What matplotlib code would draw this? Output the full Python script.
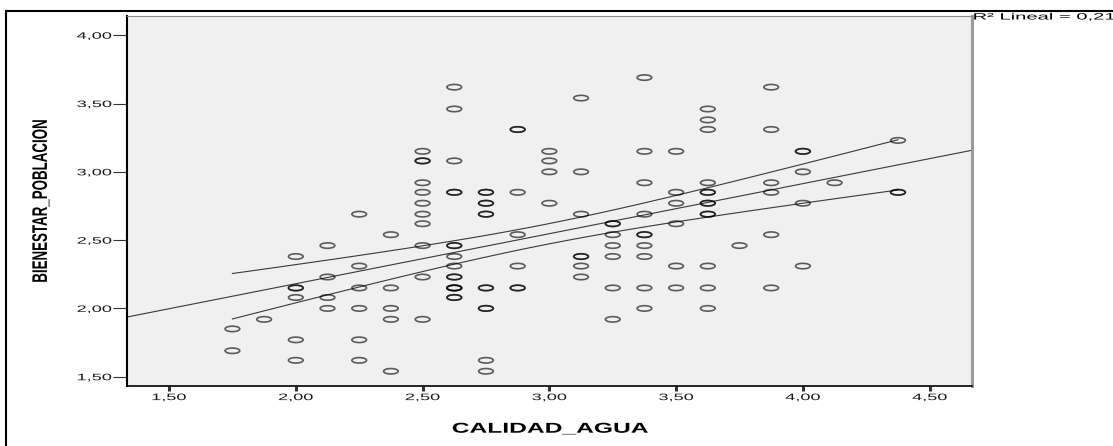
import numpy as np
import matplotlib
matplotlib.use("Agg")
import matplotlib.pyplot as plt
from matplotlib import patheffects
from matplotlib.path import Path
from matplotlib.transforms import Affine2D
from matplotlib.patches import Rectangle

# niveles de CALIDAD_AGUA y puntajes de BIENESTAR_POBLACION observados en cada nivel
calidad_agua = [1.75, 1.875, 2.0, 2.125, 2.25, 2.375, 2.5, 2.625, 2.75, 2.875, 3.0,
                3.125, 3.25, 3.375, 3.5, 3.625, 3.75, 3.875, 4.0, 4.125, 4.375]
bienestar_poblacion = [
    [1.85, 1.69],
    [1.92],
    [2.38, 2.15, 2.15, 2.08, 1.77, 1.62],
    [2.46, 2.23, 2.08, 2.00],
    [2.69, 2.31, 2.15, 2.00, 1.77, 1.62],
    [2.54, 2.15, 2.00, 1.92, 1.54],
    [3.15, 3.08, 3.08, 2.92, 2.85, 2.77, 2.69, 2.62, 2.46, 2.23, 1.92],
    [3.62, 3.46, 3.08, 2.85, 2.85, 2.46, 2.46, 2.38, 2.31, 2.23, 2.23, 2.15, 2.15, 2.15, 2.08, 2.08],
    [2.85, 2.85, 2.77, 2.77, 2.69, 2.69, 2.15, 2.15, 2.00, 2.00, 1.62, 1.54],
    [3.31, 3.31, 2.85, 2.54, 2.31, 2.15, 2.15],
    [3.15, 3.08, 3.00, 2.77],
    [3.54, 3.00, 2.69, 2.38, 2.38, 2.31, 2.23],
    [2.62, 2.62, 2.54, 2.46, 2.38, 2.15, 1.92],
    [3.69, 3.15, 2.92, 2.69, 2.54, 2.54, 2.46, 2.38, 2.15, 2.00],
    [3.15, 2.85, 2.77, 2.62, 2.31, 2.15],
    [3.46, 3.38, 3.31, 2.92, 2.85, 2.85, 2.77, 2.77, 2.69, 2.69, 2.31, 2.15, 2.00],
    [2.46],
    [3.62, 3.31, 2.92, 2.85, 2.54, 2.15],
    [3.15, 3.15, 3.00, 2.77, 2.31],
    [2.92],
    [3.23, 2.85, 2.85],
]
r2_lineal = 0.216
xticks = [1.5, 2.0, 2.5, 3.0, 3.5, 4.0, 4.5]
yticks = [1.5, 2.0, 2.5, 3.0, 3.5, 4.0]


class Stretch(patheffects.AbstractPathEffect):
    """Dibuja el texto estirado (sx, sy) alrededor de un punto de su caja."""

    def __init__(self, sx=1.0, sy=1.0, fx=0.5, fy=0.5):
        super().__init__()
        self.sx, self.sy, self.fx, self.fy = sx, sy, fx, fy

    def draw_path(self, renderer, gc, tpath, affine, rgbFace=None):
        bb = tpath.get_extents(affine)
        cx = bb.x0 + self.fx * bb.width
        cy = bb.y0 + self.fy * bb.height
        tr = affine + Affine2D().translate(-cx, -cy).scale(self.sx, self.sy).translate(cx, cy)
        renderer.draw_path(gc, tpath, tr, rgbFace)


x = np.concatenate([[c] * len(v) for c, v in zip(calidad_agua, bienestar_poblacion)])
y = np.concatenate([np.array(v, dtype=float) for v in bienestar_poblacion])

# ajuste lineal y banda de confianza del 95% para la media
n = len(x)
b, a = np.polyfit(x, y, 1)
resid = y - (a + b * x)
s = np.sqrt(np.sum(resid ** 2) / (n - 2))
sxx = np.sum((x - x.mean()) ** 2)
t = 1.978

plt.rcParams['font.family'] = ['Liberation Sans', 'DejaVu Sans']

fig = plt.figure(figsize=(11.13, 4.46), dpi=100)
ax = fig.add_axes([0.11384, 0.13453, 0.75948, 0.83027])
ax.set_facecolor('#f0f0f0')
ax.set_xlim(1.333, 4.667)
ax.set_ylim(1.432, 4.143)

xl = np.array(ax.get_xlim())
ax.plot(xl, a + b * xl, color='#3a3a3a', lw=0.8, zorder=2)
xs = np.linspace(x.min(), x.max(), 100)
half = t * s * np.sqrt(1 / n + (xs - x.mean()) ** 2 / sxx)
ax.plot(xs, a + b * xs + half, color='#3a3a3a', lw=0.8, zorder=2)
ax.plot(xs, a + b * xs - half, color='#3a3a3a', lw=0.8, zorder=2)

circ = Path.unit_circle()
elipse = Path(circ.vertices * np.array([1.0, 0.37]), circ.codes)
ax.scatter(x, y, s=112, marker=elipse, facecolors='none',
           edgecolors=(0, 0, 0, 0.62), linewidths=1.2, zorder=3)

ax.set_xticks(xticks)
ax.set_xticklabels([f'{v:.2f}'.replace('.', ',') for v in xticks])
ax.set_yticks(yticks)
ax.set_yticklabels([f'{v:.2f}'.replace('.', ',') for v in yticks])
ax.tick_params(axis='x', length=3.6, width=2.2, pad=1.5, color='#333333',
               labelsize=6.7, labelcolor='#1a1a1a')
ax.tick_params(axis='y', length=9.8, width=0.8, pad=1.0, color='#333333',
               labelsize=6.7, labelcolor='#1a1a1a')
for lab in ax.get_xticklabels():
    lab.set_path_effects([Stretch(sx=1.95, fx=0.5)])
for lab in ax.get_yticklabels():
    lab.set_path_effects([Stretch(sx=1.95, fx=1.0)])

ax.spines['left'].set_linewidth(1.5)
ax.spines['left'].set_color('black')
ax.spines['bottom'].set_linewidth(1.2)
ax.spines['bottom'].set_color('black')
ax.spines['top'].set_linewidth(0.8)
ax.spines['top'].set_color('#8a8a8a')
ax.spines['right'].set_linewidth(2.2)
ax.spines['right'].set_color('#9a9a9a')

fig.text(550 / 1113, 1 - 432.7 / 446, 'CALIDAD_AGUA', fontsize=10.3, fontweight='bold',
         ha='center', va='baseline', path_effects=[Stretch(sx=1.72)])
fig.text(41 / 1113, 1 - 201 / 446, 'BIENESTAR_POBLACION', fontsize=11.7, fontweight='bold',
         rotation=90, ha='center', va='center', path_effects=[Stretch(sx=1.3, sy=0.82)])
fig.text(973.5 / 1113, 1 - 19.5 / 446, f'R² Lineal = {r2_lineal:.3f}'.replace('.', ','),
         fontsize=6.6, ha='left', va='baseline', path_effects=[Stretch(sx=2.2, fx=0.0)])

# marco exterior
fig.add_artist(Rectangle((6.3 / 1113, -0.5), 2.0, 1.5 - 10.5 / 446, transform=fig.transFigure,
                         fill=False, edgecolor='black', lw=1.5))

fig.savefig('out.png', dpi=100)
